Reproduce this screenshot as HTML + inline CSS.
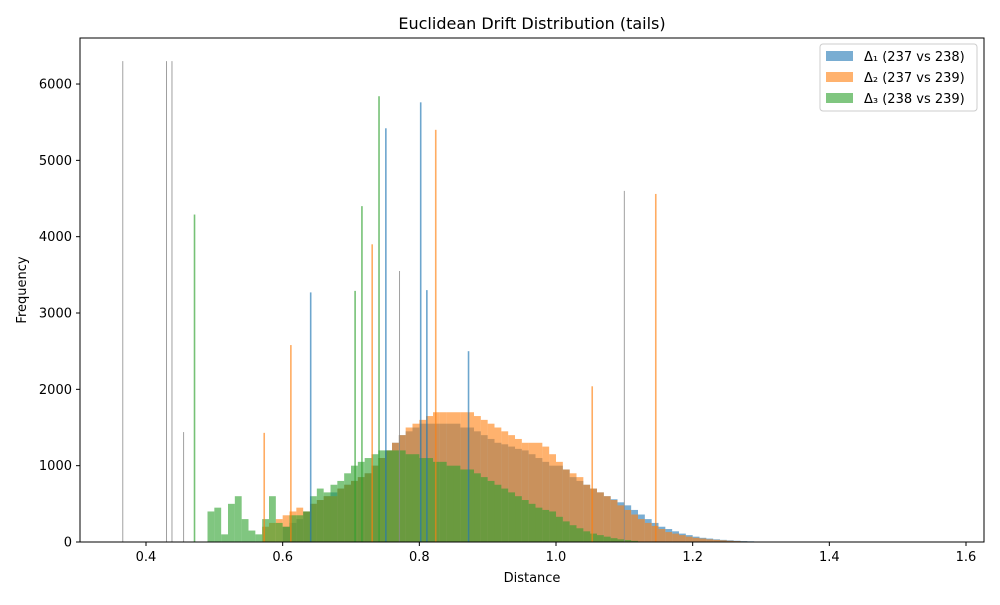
<!DOCTYPE html>
<html><head><meta charset="utf-8"><style>
body{margin:0;background:#fff;font-family:"Liberation Sans","DejaVu Sans",sans-serif;}
svg text{font-family:"DejaVu Sans","Liberation Sans",sans-serif;}
</style></head><body>
<svg id="chart" width="1000" height="600" xmlns="http://www.w3.org/2000/svg">
<rect width="1000" height="600" fill="#fff"/>
<text x="532" y="29" font-size="16" text-anchor="middle">Euclidean Drift Distribution (tails)</text>
<g id="bars"></g>
<rect x="80" y="38" width="904" height="504" fill="none" stroke="#000" stroke-width="1"/>
<g id="xt"></g>
<g id="yt"></g>
<text x="532" y="582" font-size="13" text-anchor="middle">Distance</text>
<text transform="translate(26,290) rotate(-90)" font-size="13" text-anchor="middle">Frequency</text>
<g>
<rect x="820" y="44" width="157" height="67" rx="3" fill="#fff" fill-opacity="0.8" stroke="#ccc"/>
<g><rect x="826" y="51" width="27" height="10" fill="#1f77b4" fill-opacity="0.6"/><text x="864" y="61" font-size="13">Δ₁ (237 vs 238)</text></g>
<g><rect x="826" y="72" width="27" height="10" fill="#ff7f0e" fill-opacity="0.6"/><text x="864" y="82" font-size="13">Δ₂ (237 vs 239)</text></g>
<g><rect x="826" y="93" width="27" height="10" fill="#2ca02c" fill-opacity="0.6"/><text x="864" y="103" font-size="13">Δ₃ (238 vs 239)</text></g>
</g>
</svg>
<script>
const binWidth = 0.01;
const blueStart = 0.60;
const blueValues = [200,250,300,400,500,550,600,650,700,750,800,850,900,1000,1100,1200,1300,1400,1450,1500,1550,1550,1550,1550,1550,1550,1500,1500,1450,1400,1350,1300,1280,1250,1220,1200,1150,1100,1050,1000,1000,950,850,800,750,700,650,600,560,520,480,420,360,300,250,200,170,140,110,90,70,55,45,35,28,22,16,12,9,6];
const orangeStart = 0.57;
const orangeValues = [200,250,300,350,400,450,400,500,550,600,600,700,750,800,850,900,1000,1100,1200,1300,1400,1500,1550,1600,1650,1700,1700,1700,1700,1700,1700,1650,1600,1550,1500,1450,1400,1350,1300,1300,1300,1250,1150,1050,950,900,850,750,700,650,600,550,480,420,360,300,250,210,170,130,110,90,70,55,45,35,28,22,16,12,8,6];
const greenStart = 0.49;
const greenValues = [400,450,100,500,600,300,150,100,300,600,250,200,350,350,400,600,700,650,750,800,900,1000,1050,1100,1150,1200,1200,1200,1200,1150,1150,1100,1100,1050,1050,1000,1000,950,950,900,850,800,750,700,650,600,550,500,450,420,400,330,270,220,180,140,110,90,70,50,35,25,15];
const spikeX = [0.366,0.430,0.438,0.455,1.100,1.146,0.824,0.731,0.612,0.573,1.053,0.751,0.802,0.641,0.872,0.741,0.471,0.716,0.706,0.771,0.811];
const spikeY = [6300,6300,6300,1440,4600,4560,5400,3900,2580,1430,2040,5420,5760,3270,2500,5840,4290,4400,3290,3550,3300];
const spikeSeries = ["gray","gray","gray","gray","gray","orange","orange","orange","orange","orange","orange","blue","blue","blue","blue","green","green","green","green","gray","blue"];
const xTicks = [0.4,0.6,0.8,1.0,1.2,1.4,1.6];
const xTickLabels = ["0.4","0.6","0.8","1.0","1.2","1.4","1.6"];
const yTicks = [0,1000,2000,3000,4000,5000,6000];

const xScale = v => 77.67 + (v - 0.3) * 683.33;
const yScale = v => 542 - v * 0.07633;
const colors = {blue:"#1f77b4",orange:"#ff7f0e",green:"#2ca02c",gray:"#888"};
const NS = "http://www.w3.org/2000/svg";
const bars = document.getElementById("bars");
function drawSeries(start, vals, key) {
  vals.forEach((v, i) => {
    const x0 = xScale(start + i * binWidth), x1 = xScale(start + (i + 1) * binWidth);
    const r = document.createElementNS(NS, "rect");
    r.setAttribute("x", x0); r.setAttribute("width", x1 - x0);
    r.setAttribute("y", yScale(v)); r.setAttribute("height", 542 - yScale(v));
    r.setAttribute("fill", colors[key]); r.setAttribute("fill-opacity", "0.6");
    
    
    bars.appendChild(r);
  });
}
drawSeries(blueStart, blueValues, "blue");
drawSeries(orangeStart, orangeValues, "orange");
drawSeries(greenStart, greenValues, "green");
spikeX.forEach((sx, i) => {
  const r = document.createElementNS(NS, "rect");
  const w = spikeSeries[i] === "gray" ? 1 : 1.6;
  r.setAttribute("x", xScale(sx) - w / 2); r.setAttribute("width", w);
  r.setAttribute("y", yScale(spikeY[i])); r.setAttribute("height", 542 - yScale(spikeY[i]));
  r.setAttribute("fill", colors[spikeSeries[i]]); r.setAttribute("fill-opacity", spikeSeries[i] === "gray" ? "0.8" : "0.65");
  
  
  bars.appendChild(r);
});
const xt = document.getElementById("xt");
xTicks.forEach((t, i) => {
  const x = xScale(t);
  const l = document.createElementNS(NS, "line");
  l.setAttribute("x1", x); l.setAttribute("x2", x); l.setAttribute("y1", 542); l.setAttribute("y2", 546);
  l.setAttribute("stroke", "#000");
  
  
  xt.appendChild(l);
  const tx = document.createElementNS(NS, "text");
  tx.setAttribute("x", x); tx.setAttribute("y", 561); tx.setAttribute("font-size", "13"); tx.setAttribute("text-anchor", "middle");
  tx.textContent = xTickLabels[i];
  
  
  xt.appendChild(tx);
});
const yt = document.getElementById("yt");
yTicks.forEach(t => {
  const y = yScale(t);
  const l = document.createElementNS(NS, "line");
  l.setAttribute("x1", 76); l.setAttribute("x2", 80); l.setAttribute("y1", y); l.setAttribute("y2", y);
  l.setAttribute("stroke", "#000");
  
  
  yt.appendChild(l);
  const tx = document.createElementNS(NS, "text");
  tx.setAttribute("x", 72); tx.setAttribute("y", y + 4.5); tx.setAttribute("font-size", "13"); tx.setAttribute("text-anchor", "end");
  tx.textContent = String(t);
  
  
  yt.appendChild(tx);
});
</script>
</body></html>
